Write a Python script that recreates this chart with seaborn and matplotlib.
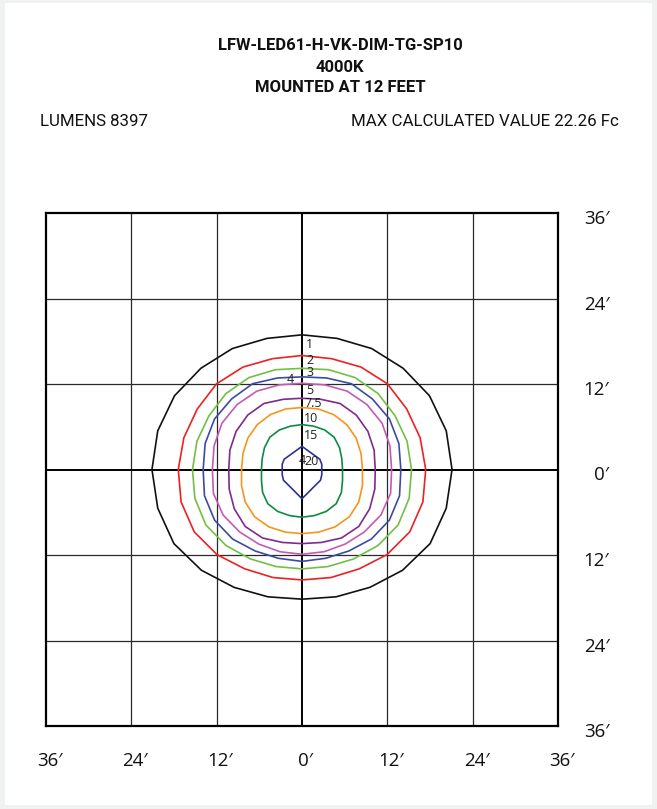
"""Isofootcandle plot for LFW-LED61 luminaire."""

import matplotlib

matplotlib.use("Agg")  # headless

import matplotlib.pyplot as plt
import matplotlib.transforms as mtransforms
import numpy as np
import pandas as pd
import seaborn as sns
from matplotlib.patches import Rectangle

TITLE_LINES = ["LFW-LED61-H-VK-DIM-TG-SP10", "4000K", "MOUNTED AT 12 FEET"]
LUMENS_TEXT = "LUMENS 8397"
MAX_TEXT = "MAX CALCULATED VALUE 22.26 Fc"

GRID_FT = [-36, -24, -12, 0, 12, 24, 36]
TICK_LABELS = ["36\u2032", "24\u2032", "12\u2032", "0\u2032", "12\u2032", "24\u2032", "36\u2032"]

# footcandle levels and their line colours
LEVELS = ["1", "2", "3", "4", "5", "7.5", "10", "15", "20"]
COLORS = ["#111111", "#ed2024", "#72bf44", "#3b4ba5", "#c45ab3",
          "#7f2b8a", "#f7941d", "#0f8a45", "#2e3192"]

# contour radius (ft) read at these angles on the right half, mirrored to the left
ANGLES = [90, 75, 60, 45, 30, 15, 0, -15, -30, -45, -60, -75, -90]
R_1 = [18.9, 19.05, 19.6, 20.1, 20.7, 21.0, 21.1, 21.0, 20.8, 20.0, 19.1, 18.5, 18.2]
R_2 = [16.0, 16.1, 16.6, 17.0, 17.0, 17.2, 17.4, 17.6, 17.5, 16.9, 16.1, 15.7, 15.5]
R_3 = [14.2, 14.5, 14.9, 15.1, 15.1, 15.3, 15.4, 15.6, 15.6, 15.1, 14.5, 14.1, 13.95]
R_4 = [13.0, 13.3, 13.9, 14.0, 14.2, 14.1, 13.9, 14.2, 14.2, 13.8, 13.2, 12.9, 12.9]
R_5 = [12.1, 12.3, 12.7, 12.9, 13.0, 12.8, 12.6, 12.9, 12.8, 12.4, 12.1, 11.95, 11.9]
R_7_5 = [10.0, 10.2, 10.7, 10.8, 10.7, 10.5, 10.3, 10.6, 11.0, 11.3, 11.1, 10.6, 10.4]
R_10 = [8.7, 8.8, 8.9, 8.9, 8.8, 8.6, 8.5, 8.8, 9.2, 9.4, 9.3, 9.1, 9.0]
R_15 = [6.3, 6.3, 6.4, 6.4, 6.1, 5.8, 5.7, 5.9, 6.4, 6.8, 6.8, 6.7, 6.7]
R_20 = [3.25, 2.82, 2.65, 2.67, 2.89, 2.88, 2.78, 2.88, 3.01, 2.9, 3.0, 3.35, 4.1]
RADII = [R_1, R_2, R_3, R_4, R_5, R_7_5, R_10, R_15, R_20]

# contour value labels (ft)
LABEL_TEXT = ["1", "2", "3", "4", "5", "7.5", "10", "15", "20", "4"]
LABEL_X = [0.6, 0.6, 0.6, -2.1, 0.6, 0.4, 0.3, 0.3, 0.3, -0.5]
LABEL_Y = [17.6, 15.3, 13.6, 12.6, 11.1, 9.3, 7.2, 4.75, 1.1, 1.2]

W, H = 657, 809


def contour_frame() -> pd.DataFrame:
    """Closed outline points for every level, in drawing order."""
    rows = []
    ang = np.radians(ANGLES)
    for level, radii in zip(LEVELS, RADII):
        r = np.asarray(radii)
        xs = list(r * np.cos(ang)) + list(-(r * np.cos(ang))[::-1][1:])
        ys = list(r * np.sin(ang)) + list((r * np.sin(ang))[::-1][1:])
        for i, (x, y) in enumerate(zip(xs, ys)):
            rows.append({"level": level, "order": i, "x": x, "y": y})
    return pd.DataFrame(rows)


sns.set_theme(style="white")
plt.rcParams["font.family"] = ["Open Sans", "DejaVu Sans"]

fig = plt.figure(figsize=(W / 100, H / 100), dpi=100, facecolor="#f0f2f2")
fig.patches.append(
    Rectangle((5 / W, 1 - 805 / H), 647 / W, 802 / H, transform=fig.transFigure,
              facecolor="white", edgecolor="none", zorder=-5)
)

ax = fig.add_axes([46 / W, 1 - 726 / H, 512 / W, 513 / H])
ax.set_facecolor("white")

for g in GRID_FT[1:-1]:
    lw, col = (1.4, "black") if g == 0 else (0.9, "#2a2a2a")
    ax.axvline(g, color=col, lw=lw, zorder=1)
    ax.axhline(g, color=col, lw=lw, zorder=1)

df = contour_frame()
sns.lineplot(data=df, x="x", y="y", hue="level", hue_order=LEVELS,
             palette=dict(zip(LEVELS, COLORS)), sort=False, estimator=None,
             legend=False, linewidth=1.2, ax=ax, zorder=2)

for txt, x, y in zip(LABEL_TEXT, LABEL_X, LABEL_Y):
    ax.text(x, y, txt, ha="left", va="center", fontsize=9, color="#222222", zorder=3)

ax.set_xlim(-36, 36)
ax.set_ylim(-36, 36)
ax.set_xlabel("")
ax.set_ylabel("")
ax.set_xticks(GRID_FT)
ax.set_xticklabels(TICK_LABELS, fontsize=13.5)
ax.yaxis.tick_right()
ax.set_yticks(GRID_FT)
ax.set_yticklabels(TICK_LABELS[::-1], fontsize=13.5, ha="right")
ax.tick_params(axis="x", length=0, pad=19, colors="#111111")
ax.tick_params(axis="y", length=0, pad=37, colors="#111111")

# labels in the reference sit a few pixels right / below their grid lines
shift_x = mtransforms.ScaledTranslation(4 / 100, 0, fig.dpi_scale_trans)
shift_y = mtransforms.ScaledTranslation(0, -4 / 100, fig.dpi_scale_trans)
for lab in ax.get_xticklabels():
    lab.set_transform(lab.get_transform() + shift_x)
for lab in ax.get_yticklabels():
    lab.set_transform(lab.get_transform() + shift_y)

for sp in ax.spines.values():
    sp.set_color("black")
    sp.set_linewidth(1.6)
    sp.set_visible(True)

title_font = ["Roboto", "DejaVu Sans"]
for text, y in zip(TITLE_LINES, [46, 68, 88]):
    fig.text(340 / W, 1 - y / H, text, ha="center", va="center", fontsize=12,
             fontweight="bold", family=title_font, color="#111111")
fig.text(40 / W, 1 - 122 / H, LUMENS_TEXT, ha="left", va="center", fontsize=12.2,
         family=title_font, color="#111111")
fig.text(619 / W, 1 - 122 / H, MAX_TEXT, ha="right", va="center", fontsize=12.2,
         family=title_font, color="#111111")

fig.savefig("out.png", dpi=100, facecolor=fig.get_facecolor())
plt.close(fig)
